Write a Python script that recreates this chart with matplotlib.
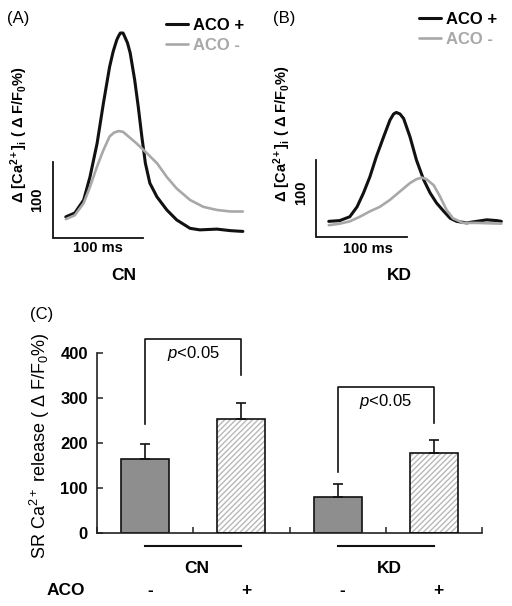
import matplotlib
matplotlib.use("Agg")
import matplotlib.pyplot as plt
import numpy as np

plt.rcParams['font.family'] = ['Liberation Sans', 'DejaVu Sans']
plt.rcParams['mathtext.fontset'] = 'custom'
plt.rcParams['mathtext.rm'] = 'Liberation Sans'
plt.rcParams['mathtext.it'] = 'Liberation Sans:italic'
plt.rcParams['mathtext.bf'] = 'Liberation Sans:bold'
plt.rcParams['hatch.linewidth'] = 1.0

# ---- data: Ca2+ transients (time in ms, amplitude in dF/F0 %) ----
cn_t_plus = [14, 24, 34, 41, 49, 56, 63, 67, 71, 73, 75, 78, 80, 83, 86, 91, 95, 99, 103, 108, 116, 127, 138, 153, 164, 183, 198, 212]
cn_plus = [28, 33, 50, 80, 124, 176, 224, 244, 259, 264, 268, 268, 263, 255, 242, 207, 172, 133, 98, 72, 54, 37, 24, 13, 11, 12, 10, 9]
cn_t_minus = [14, 24, 34, 41, 49, 56, 63, 68, 73, 78, 82, 93, 103, 116, 127, 138, 153, 168, 183, 198, 212]
cn_minus = [25, 30, 46, 67, 94, 115, 133, 138, 140, 139, 135, 124, 113, 98, 80, 65, 50, 41, 37, 35, 35]

kd_t_plus = [14, 26, 37, 45, 52, 59, 66, 74, 81, 85, 88, 92, 96, 103, 110, 118, 125, 132, 140, 147, 154, 165, 176, 187, 198, 203]
kd_plus = [20, 21, 26, 39, 57, 78, 104, 130, 152, 160, 162, 160, 154, 130, 100, 74, 57, 44, 33, 24, 20, 18, 20, 22, 21, 20]
kd_t_minus = [14, 26, 37, 48, 59, 70, 81, 92, 103, 110, 116, 121, 129, 136, 143, 150, 161, 176, 203]
kd_minus = [15, 17, 20, 26, 33, 39, 48, 59, 70, 75, 77, 75, 67, 52, 35, 24, 18, 18, 17]

scale_ms = 100
scale_pct = 100

# ---- data: SR Ca2+ release bars ----
groups = ['CN', 'KD']
aco_signs = ['-', '+', '-', '+']
release = [164, 253, 81, 177]
release_err = [33, 35, 29, 29]

W, H = 512, 606
BLACK = '#111111'
GRAY = '#a8a8a8'

fig = plt.figure(figsize=(W / 100, H / 100), dpi=100)


def fpx(x, y):
    return x / W, 1 - y / H


def trace_axes(left, top, w, h, ox, oy, px_ms, px_pct):
    ax = fig.add_axes([left / W, 1 - (top + h) / H, w / W, h / H])
    ax.set_xlim((left - ox) / px_ms, (left + w - ox) / px_ms)
    ax.set_ylim((oy - (top + h)) / px_pct, (oy - top) / px_pct)
    ax.axis('off')
    return ax


ylab_tr = 'Δ [Ca$^{\\mathbf{2+}}$]$_{\\mathbf{i}}$ ( Δ F/F$_{\\mathbf{0}}$%)'

panels = [
    dict(rect=(0, 0, 256, 300), origin=(53.3, 238.3), sc=(0.894, 0.766),
         tp=cn_t_plus, yp=cn_plus, tm=cn_t_minus, ym=cn_minus,
         tag='(A)', tag_xy=(7, 18), ylab_xy=(19, 135), hund_xy=(37, 200),
         ms_xy=(98, 248), grp='CN', grp_xy=(124, 275), leg_xy=(166, 35)),
    dict(rect=(256, 0, 256, 300), origin=(316.0, 236.7), sc=(0.913, 0.767),
         tp=kd_t_plus, yp=kd_plus, tm=kd_t_minus, ym=kd_minus,
         tag='(B)', tag_xy=(273, 19), ylab_xy=(282, 134), hund_xy=(301, 193),
         ms_xy=(368, 249), grp='KD', grp_xy=(399, 275), leg_xy=(419, 29)),
]

for p in panels:
    ax = trace_axes(*p['rect'], *p['origin'], *p['sc'])
    ax.plot(p['tp'], p['yp'], color=BLACK, lw=2.2, label='ACO +',
            solid_capstyle='round', solid_joinstyle='round')
    ax.plot(p['tm'], p['ym'], color=GRAY, lw=1.9, label='ACO -',
            solid_capstyle='round', solid_joinstyle='round')
    ax.plot([0, 0, scale_ms], [scale_pct, 0, 0], color=BLACK, lw=1.3, solid_joinstyle='miter')
    leg = ax.legend(loc='center left', bbox_to_anchor=fpx(*p['leg_xy']),
                    bbox_transform=fig.transFigure, frameon=False,
                    prop={'weight': 'bold', 'size': 12}, handlelength=1.3,
                    handletextpad=0.3, labelspacing=0.3, borderpad=0, borderaxespad=0)
    leg.get_texts()[1].set_color(GRAY)
    fig.text(*fpx(*p['tag_xy']), p['tag'], fontsize=12, ha='left', va='center')
    fig.text(*fpx(*p['ylab_xy']), ylab_tr, fontsize=10.5, fontweight='bold',
             rotation=90, ha='center', va='center')
    fig.text(*fpx(*p['hund_xy']), str(scale_pct), fontsize=10.5, fontweight='bold',
             rotation=90, ha='center', va='center')
    fig.text(*fpx(*p['ms_xy']), f'{scale_ms} ms', fontsize=10.5, fontweight='bold',
             ha='center', va='center')
    fig.text(*fpx(*p['grp_xy']), p['grp'], fontsize=12.5, fontweight='bold',
             ha='center', va='center')

# ---- panel C ----
axc = fig.add_axes([97 / W, 1 - 533 / H, 385 / W, 180 / H])
x = np.arange(len(release)) + 0.5
solid = [0, 2]
hatched = [1, 3]
axc.bar(x[solid], np.array(release)[solid], width=0.5, color='#8e8e8e',
        edgecolor=BLACK, linewidth=1.2, zorder=2)
axc.bar(x[hatched], np.array(release)[hatched], width=0.5, color='white',
        edgecolor='#b8b8b8', hatch='//////', linewidth=0, zorder=2)
axc.bar(x[hatched], np.array(release)[hatched], width=0.5, fill=False,
        edgecolor=BLACK, linewidth=1.2, zorder=3)
axc.errorbar(x, release, yerr=[np.zeros(len(release)), release_err], fmt='none',
             ecolor=BLACK, elinewidth=1.2, capsize=3.5, capthick=1.2, zorder=4)

axc.set_xlim(0, 4)
axc.set_ylim(0, 400)
axc.spines['top'].set_visible(False)
axc.spines['right'].set_visible(False)
for s in ('left', 'bottom'):
    axc.spines[s].set_linewidth(1.2)
    axc.spines[s].set_color('#222222')
axc.set_yticks([0, 100, 200, 300, 400], labels=['0', '100', '200', '300', '400'],
               fontsize=12, fontweight='bold')
axc.set_xticks(np.arange(5), labels=[])
axc.tick_params(axis='both', direction='in', length=4, width=1.1, color='#222222', pad=6.5)

# significance brackets
br_x = [(0.5, 1.5), (2.5, 3.5)]
br_top = [431, 324]
br_legs = [(242, 351), (136, 244)]
p_y = [398, 293]
for (x0, x1), top, (l0, l1), py in zip(br_x, br_top, br_legs, p_y):
    axc.plot([x0, x0, x1, x1], [l0, top, top, l1], color=BLACK, lw=1.2, clip_on=False)
    axc.text((x0 + x1) / 2, py, '$p$<0.05', fontsize=12, ha='center', va='center')

# group lines and labels below the axis
for i, g in enumerate(groups):
    x0, x1 = x[2 * i], x[2 * i + 1]
    axc.plot([x0, x1], [-29, -29], color=BLACK, lw=1.5, clip_on=False)
    axc.text((x0 + x1) / 2 + 0.04, -78, g, fontsize=12.5, fontweight='bold',
             ha='center', va='center')
for xi, s in zip(x, aco_signs):
    axc.text(xi + 0.05, -127, s, fontsize=12.5, fontweight='bold', ha='center', va='center')
axc.text(-0.32, -127, 'ACO', fontsize=12.5, fontweight='bold', ha='center', va='center')

fig.text(*fpx(30, 315), '(C)', fontsize=12, ha='left', va='center')
fig.text(*fpx(40, 446), 'SR Ca$^{2+}$ release ( Δ F/F$_0$%)', fontsize=13,
         rotation=90, ha='center', va='center')

fig.savefig('out.png', dpi=100)
